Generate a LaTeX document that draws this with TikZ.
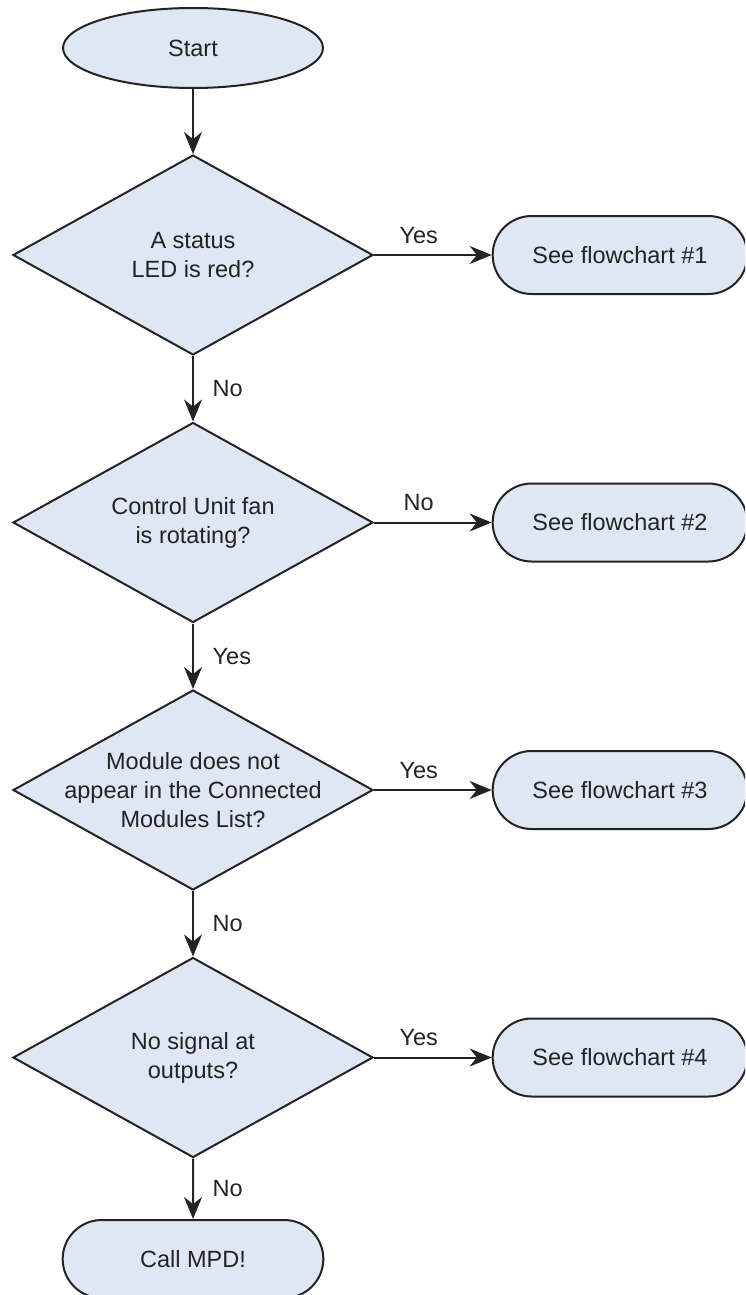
\documentclass[tikz,border=0pt]{standalone}
\usepackage{fontspec}
\setmainfont{Liberation Sans}
\usetikzlibrary{arrows.meta, shapes, positioning}
\usepackage{xcolor}
\definecolor{paleblue}{RGB}{223,230,244}
\definecolor{darkline}{RGB}{35,35,35}
\tikzset{startnode/.style={ellipse, fill=paleblue, draw=darkline, line width=1pt},endnode/.style={rounded rectangle, fill=paleblue, draw=darkline, line width=1pt}}

\begin{document}
\begin{tikzpicture}[
        font=\fontsize{11.75}{14.5}\selectfont,
        text=darkline,
        startnode/.style={shape=ellipse, fill=paleblue, draw=darkline, line width=1pt, minimum width=130pt, minimum height=40pt},
        decisionnode/.style={shape=diamond, shape aspect=1.8, fill=paleblue, draw=darkline, line width=1pt, minimum width=180pt, minimum height=100pt, inner xsep=-10pt, inner ysep=-6pt, align=center},
        endnode/.style={shape=rounded rectangle, fill=paleblue, draw=darkline, line width=1pt, minimum width=137pt, minimum height=39pt},
        sidenode/.style={endnode, minimum width=134pt},
        flowarrow/.style={-{Stealth[length=11pt, width=9pt]}, draw=darkline, line width=1pt}
    ]
        % Frame
        \useasboundingbox (0pt, 0pt) rectangle (372.5pt, -647.5pt);
        \clip (0pt, 0pt) rectangle (372.5pt, -647.5pt);
        % Main column
        \node[startnode] (start) at (96.5pt, -24pt) {Start};
        \node[decisionnode] (led) at (96.5pt, -127.5pt) {A status\\LED is red?};
        \node[decisionnode] (fan) at (96.5pt, -261.25pt) {Control Unit fan\\is rotating?};
        \node[decisionnode] (list) at (96.5pt, -395pt) {Module does not\\appear in the Connected\\Modules List?};
        \node[decisionnode] (signal) at (96.5pt, -528.75pt) {No signal at\\outputs?};
        \node[endnode] (mpd) at (96.5pt, -629.5pt) {Call MPD!};
        % Side branches
        \node[sidenode] (chart1) at (310pt, -127.5pt) {See flowchart \#1};
        \node[sidenode] (chart2) at (310pt, -261.25pt) {See flowchart \#2};
        \node[sidenode] (chart3) at (310pt, -395pt) {See flowchart \#3};
        \node[sidenode] (chart4) at (310pt, -528.75pt) {See flowchart \#4};
        % Arrows
        \draw[flowarrow] (start) -- (led);
        \foreach \from/\to/\answer in {
            led/fan/No,
            fan/list/Yes,
            list/signal/No,
            signal/mpd/No} {
            \draw[flowarrow] (\from) -- node[right=6pt] {\answer} (\to);
        }
        \foreach \from/\to/\answer in {
            led/chart1/Yes,
            fan/chart2/No,
            list/chart3/Yes,
            signal/chart4/Yes} {
            \draw[flowarrow] (\from) -- node[above=2pt, pos=0.38] {\answer} (\to);
        }
    \end{tikzpicture}
\end{document}
